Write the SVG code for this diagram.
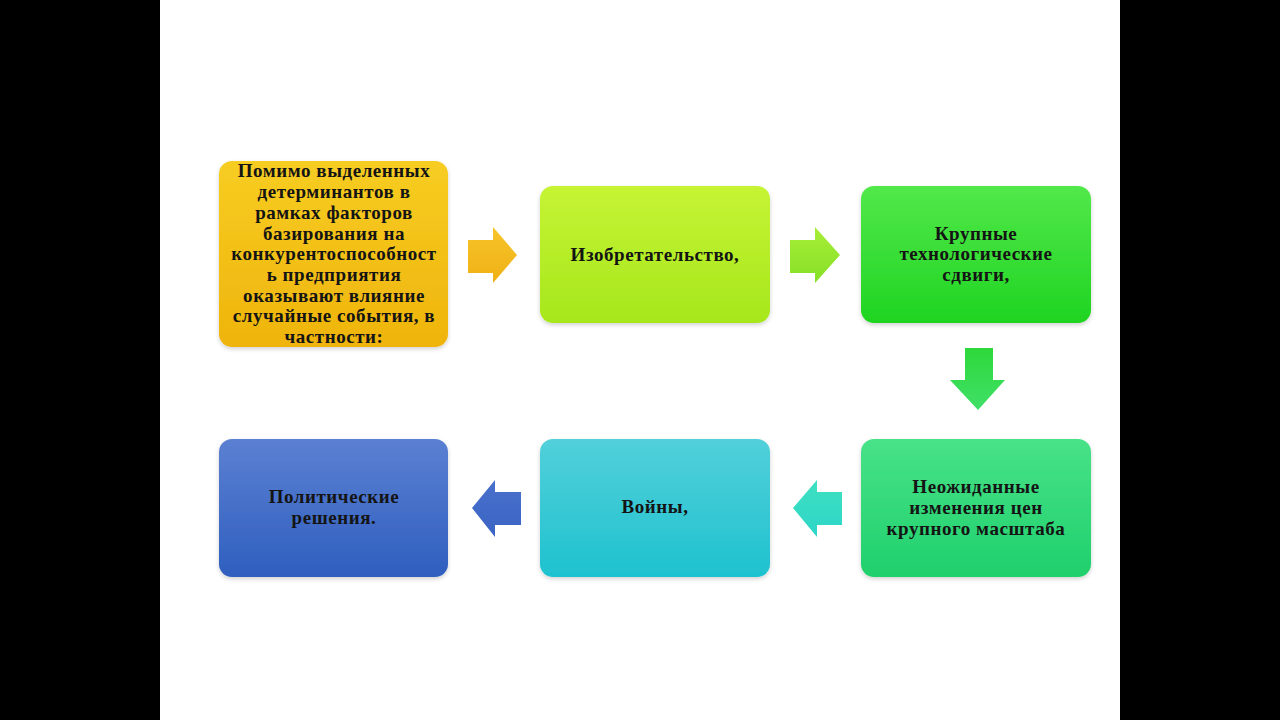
<svg xmlns="http://www.w3.org/2000/svg" width="1280" height="720" viewBox="0 0 1280 720">
<style>
.t{font-family:"Liberation Serif","Times New Roman",serif;font-weight:bold;font-size:19px;letter-spacing:0.55px;fill:#141414;text-anchor:middle}
.box{filter:url(#sh)}
</style>
<defs>
<filter id="sh" x="-10%" y="-10%" width="120%" height="125%">
<feDropShadow dx="0" dy="2" stdDeviation="2" flood-color="#000" flood-opacity="0.18"/>
</filter>
<linearGradient id="g1" x1="0" y1="0" x2="0" y2="1"><stop offset="0" stop-color="#f7cd22"/><stop offset="1" stop-color="#efb40c"/></linearGradient>
<linearGradient id="g2" x1="0" y1="0" x2="0" y2="1"><stop offset="0" stop-color="#c6f434"/><stop offset="1" stop-color="#a6e71c"/></linearGradient>
<linearGradient id="g3" x1="0" y1="0" x2="0" y2="1"><stop offset="0" stop-color="#52e84a"/><stop offset="1" stop-color="#1fd422"/></linearGradient>
<linearGradient id="g4" x1="0" y1="0" x2="0" y2="1"><stop offset="0" stop-color="#48e288"/><stop offset="1" stop-color="#1fd06c"/></linearGradient>
<linearGradient id="g5" x1="0" y1="0" x2="0" y2="1"><stop offset="0" stop-color="#52d0da"/><stop offset="1" stop-color="#1ec2cf"/></linearGradient>
<linearGradient id="g6" x1="0" y1="0" x2="0" y2="1"><stop offset="0" stop-color="#5b80d2"/><stop offset="1" stop-color="#2f5fbf"/></linearGradient>
<linearGradient id="a1" x1="0" y1="0" x2="0" y2="1"><stop offset="0" stop-color="#f7c52a"/><stop offset="1" stop-color="#efb015"/></linearGradient>
<linearGradient id="a2" x1="0" y1="0" x2="0" y2="1"><stop offset="0" stop-color="#a8ee38"/><stop offset="1" stop-color="#86e026"/></linearGradient>
<linearGradient id="a3" x1="0" y1="0" x2="0" y2="1"><stop offset="0" stop-color="#2ed83a"/><stop offset="1" stop-color="#40e068"/></linearGradient>
<linearGradient id="a4" x1="0" y1="0" x2="0" y2="1"><stop offset="0" stop-color="#3ee0c0"/><stop offset="1" stop-color="#2ed6c8"/></linearGradient>
<linearGradient id="a5" x1="0" y1="0" x2="0" y2="1"><stop offset="0" stop-color="#4a70cc"/><stop offset="1" stop-color="#3a64c4"/></linearGradient>
</defs>
<rect x="0" y="0" width="1280" height="720" fill="#000"/>
<rect x="160" y="0" width="960" height="720" fill="#fff"/>

<g id="connectors">
<polygon points="468,240 493,240 493,227 517,255 493,283 493,273 468,273" fill="url(#a1)"/>
<polygon points="790,240 815,240 815,227 840,255 815,283 815,273 790,273" fill="url(#a2)"/>
<polygon points="965,348 993,348 993,380 1005,380 978,410 950,380 965,380" fill="url(#a3)"/>
<polygon points="842,492 817,492 817,480 793,508 817,537 817,525 842,525" fill="url(#a4)"/>
<polygon points="521,492 495,492 495,480 472,508 495,537 495,525 521,525" fill="url(#a5)"/>
</g>

<g id="node1">
<rect class="box" x="219" y="161" width="229" height="186" rx="13" fill="url(#g1)"/>
<text class="t" x="334" y="177">Помимо выделенных</text>
<text class="t" x="334" y="198">детерминантов в</text>
<text class="t" x="334" y="219">рамках факторов</text>
<text class="t" x="334" y="240">базирования на</text>
<text class="t" x="334" y="260">конкурентоспособност</text>
<text class="t" x="334" y="281">ь предприятия</text>
<text class="t" x="334" y="302">оказывают влияние</text>
<text class="t" x="334" y="322">случайные события, в</text>
<text class="t" x="334" y="343">частности:</text>
</g>

<g id="node2">
<rect class="box" x="540" y="186" width="230" height="137" rx="13" fill="url(#g2)"/>
<text class="t" x="655" y="261">Изобретательство,</text>
</g>

<g id="node3">
<rect class="box" x="861" y="186" width="230" height="137" rx="13" fill="url(#g3)"/>
<text class="t" x="976" y="240">Крупные</text>
<text class="t" x="976" y="260">технологические</text>
<text class="t" x="976" y="281">сдвиги,</text>
</g>

<g id="node4">
<rect class="box" x="861" y="439" width="230" height="138" rx="13" fill="url(#g4)"/>
<text class="t" x="976" y="493">Неожиданные</text>
<text class="t" x="976" y="514">изменения цен</text>
<text class="t" x="976" y="535">крупного масштаба</text>
</g>

<g id="node5">
<rect class="box" x="540" y="439" width="230" height="138" rx="13" fill="url(#g5)"/>
<text class="t" x="655" y="513">Войны,</text>
</g>

<g id="node6">
<rect class="box" x="219" y="439" width="229" height="138" rx="13" fill="url(#g6)"/>
<text class="t" x="334" y="503">Политические</text>
<text class="t" x="334" y="524">решения.</text>
</g>
</svg>
